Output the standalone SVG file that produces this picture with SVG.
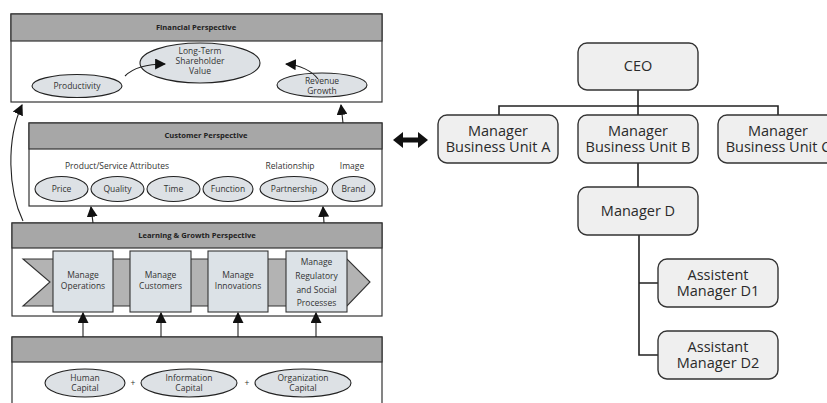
<svg xmlns="http://www.w3.org/2000/svg" width="827" height="403" viewBox="0 0 827 403">
<defs>
<style>
.panel{fill:#fff;stroke:#333;stroke-width:1.2}
.hdr{fill:#a7a7a7;stroke:#333;stroke-width:1.2}
.ht{font-family:"Open Sans","Liberation Sans",sans-serif;font-size:7.6px;font-weight:bold;fill:#222;text-anchor:middle}
.ell{fill:#dde1e5;stroke:#222;stroke-width:1.1}
.t{font-family:"Open Sans","Liberation Sans",sans-serif;font-size:8.5px;fill:#333;text-anchor:middle}
.mb{fill:#dce2e7;stroke:#333;stroke-width:1.1}
.con{fill:none;stroke:#222;stroke-width:1.1}
.org{fill:#efefef;stroke:#333;stroke-width:1.4}
.ot{font-family:"Open Sans","Liberation Sans",sans-serif;font-size:14.5px;fill:#2a2a2a;text-anchor:middle}
.ol{fill:none;stroke:#222;stroke-width:1.6}
</style>
<marker id="ah" viewBox="0 0 10 10" refX="9" refY="5" markerWidth="11" markerHeight="11" markerUnits="userSpaceOnUse" orient="auto">
<path d="M0,0 L10,5 L0,10 z" fill="#111"/>
</marker>
</defs>
<rect width="827" height="403" fill="#fff"/>

<g id="financial">
<rect class="panel" x="11" y="14" width="371" height="88"/>
<rect class="hdr" x="11" y="14" width="371" height="27"/>
<text class="ht" x="196" y="30">Financial Perspective</text>
<ellipse class="ell" cx="77" cy="86" rx="45" ry="11.5"/>
<text class="t" x="77" y="89">Productivity</text>
<ellipse class="ell" cx="200" cy="63" rx="60" ry="20"/>
<text class="t" x="200" y="54">Long-Term</text>
<text class="t" x="200" y="64">Shareholder</text>
<text class="t" x="200" y="74">Value</text>
<ellipse class="ell" cx="322" cy="85" rx="45" ry="12"/>
<text class="t" x="322" y="84">Revenue</text>
<text class="t" x="322" y="94">Growth</text>
</g>

<g id="customer">
<rect class="panel" x="29" y="123" width="353" height="83"/>
<rect class="hdr" x="29" y="123" width="353" height="26"/>
<text class="ht" x="206" y="138">Customer Perspective</text>
<text class="t" x="117" y="169">Product/Service Attributes</text>
<text class="t" x="290" y="169">Relationship</text>
<text class="t" x="352" y="169">Image</text>
<ellipse class="ell" cx="61.5" cy="189" rx="26.5" ry="12.5"/>
<text class="t" x="61.5" y="192">Price</text>
<ellipse class="ell" cx="117.5" cy="189" rx="26.5" ry="12.5"/>
<text class="t" x="117.5" y="192">Quality</text>
<ellipse class="ell" cx="173.5" cy="189" rx="26.5" ry="12.5"/>
<text class="t" x="173.5" y="192">Time</text>
<ellipse class="ell" cx="228" cy="189" rx="25" ry="12.5"/>
<text class="t" x="228" y="192">Function</text>
<ellipse class="ell" cx="294" cy="189" rx="34" ry="12.5"/>
<text class="t" x="294" y="192">Partnership</text>
<ellipse class="ell" cx="353.5" cy="189" rx="21.5" ry="12.5"/>
<text class="t" x="353.5" y="192">Brand</text>
</g>

<g id="learning">
<rect class="panel" x="12" y="223" width="370" height="93"/>
<rect class="hdr" x="12" y="223" width="370" height="25"/>
<text class="ht" x="197" y="238">Learning &amp; Growth Perspective</text>
<polygon points="23,259 347,259 370,282 347,306 23,306 50,282" fill="#b3b3b3" stroke="#333" stroke-width="1.1"/>
<rect class="mb" x="53" y="251" width="60" height="61"/>
<text class="t" x="83" y="278">Manage</text>
<text class="t" x="83" y="289">Operations</text>
<rect class="mb" x="130" y="251" width="61" height="61"/>
<text class="t" x="160.5" y="278">Manage</text>
<text class="t" x="160.5" y="289">Customers</text>
<rect class="mb" x="208" y="251" width="60" height="61"/>
<text class="t" x="238" y="278">Manage</text>
<text class="t" x="238" y="289">Innovations</text>
<rect class="mb" x="286" y="251" width="61" height="61"/>
<text class="t" x="316.5" y="265">Manage</text>
<text class="t" x="316.5" y="279">Regulatory</text>
<text class="t" x="316.5" y="293">and Social</text>
<text class="t" x="316.5" y="306">Processes</text>
</g>

<g id="capital">
<rect class="panel" x="12" y="337" width="370" height="70"/>
<rect class="hdr" x="12" y="337" width="370" height="25"/>
<ellipse class="ell" cx="85" cy="383" rx="40" ry="14"/>
<text class="t" x="85" y="381">Human</text>
<text class="t" x="85" y="391">Capital</text>
<text class="t" x="133" y="386">+</text>
<ellipse class="ell" cx="189" cy="383" rx="48" ry="14"/>
<text class="t" x="189" y="381">Information</text>
<text class="t" x="189" y="391">Capital</text>
<text class="t" x="247" y="386">+</text>
<ellipse class="ell" cx="303" cy="383" rx="48" ry="14"/>
<text class="t" x="303" y="381">Organization</text>
<text class="t" x="303" y="391">Capital</text>
</g>

<g id="connectors">
<path class="con" d="M125,76 C133,68 145,64 165,64" marker-end="url(#ah)"/>
<path class="con" d="M318,79 C312,71 300,65 286,64" marker-end="url(#ah)"/>
<path class="con" d="M23,221 C8,190 6,140 22,105" marker-end="url(#ah)"/>
<path class="con" d="M343,123 L341,105" marker-end="url(#ah)"/>
<path class="con" d="M93,223 L91,207" marker-end="url(#ah)"/>
<path class="con" d="M324,223 L323,207" marker-end="url(#ah)"/>
<path class="con" d="M83,337 L83,313" marker-end="url(#ah)"/>
<path class="con" d="M161,337 L161,313" marker-end="url(#ah)"/>
<path class="con" d="M238,337 L238,313" marker-end="url(#ah)"/>
<path class="con" d="M316,337 L316,313" marker-end="url(#ah)"/>
<path d="M393,140 L403,132 L403,137.5 L418,137.5 L418,132 L428,140 L418,148 L418,142.5 L403,142.5 L403,148 z" fill="#111"/>
<path class="ol" d="M638,90 L638,187 M499,115 L499,106 L778,106 L778,115 M639,235 L639,355 L658,355 M639,283 L658,283"/>
</g>

<g id="ceo">
<rect class="org" x="578" y="43" width="120" height="47" rx="9"/>
<text class="ot" x="638" y="71">CEO</text>
</g>
<g id="unitA">
<rect class="org" x="438" y="115" width="120" height="48" rx="9"/>
<text class="ot" x="498" y="136">Manager</text>
<text class="ot" x="498" y="152">Business Unit A</text>
</g>
<g id="unitB">
<rect class="org" x="578" y="115" width="120" height="48" rx="9"/>
<text class="ot" x="638" y="136">Manager</text>
<text class="ot" x="638" y="152">Business Unit B</text>
</g>
<g id="unitC">
<rect class="org" x="718" y="115" width="120" height="48" rx="9"/>
<text class="ot" x="778" y="136">Manager</text>
<text class="ot" x="778" y="152">Business Unit C</text>
</g>
<g id="managerD">
<rect class="org" x="578" y="187" width="120" height="48" rx="9"/>
<text class="ot" x="638" y="216">Manager D</text>
</g>
<g id="assistD1">
<rect class="org" x="658" y="259" width="120" height="48" rx="9"/>
<text class="ot" x="718" y="280">Assistent</text>
<text class="ot" x="718" y="296">Manager D1</text>
</g>
<g id="assistD2">
<rect class="org" x="658" y="331" width="120" height="48" rx="9"/>
<text class="ot" x="718" y="352">Assistant</text>
<text class="ot" x="718" y="368">Manager D2</text>
</g>
</svg>
